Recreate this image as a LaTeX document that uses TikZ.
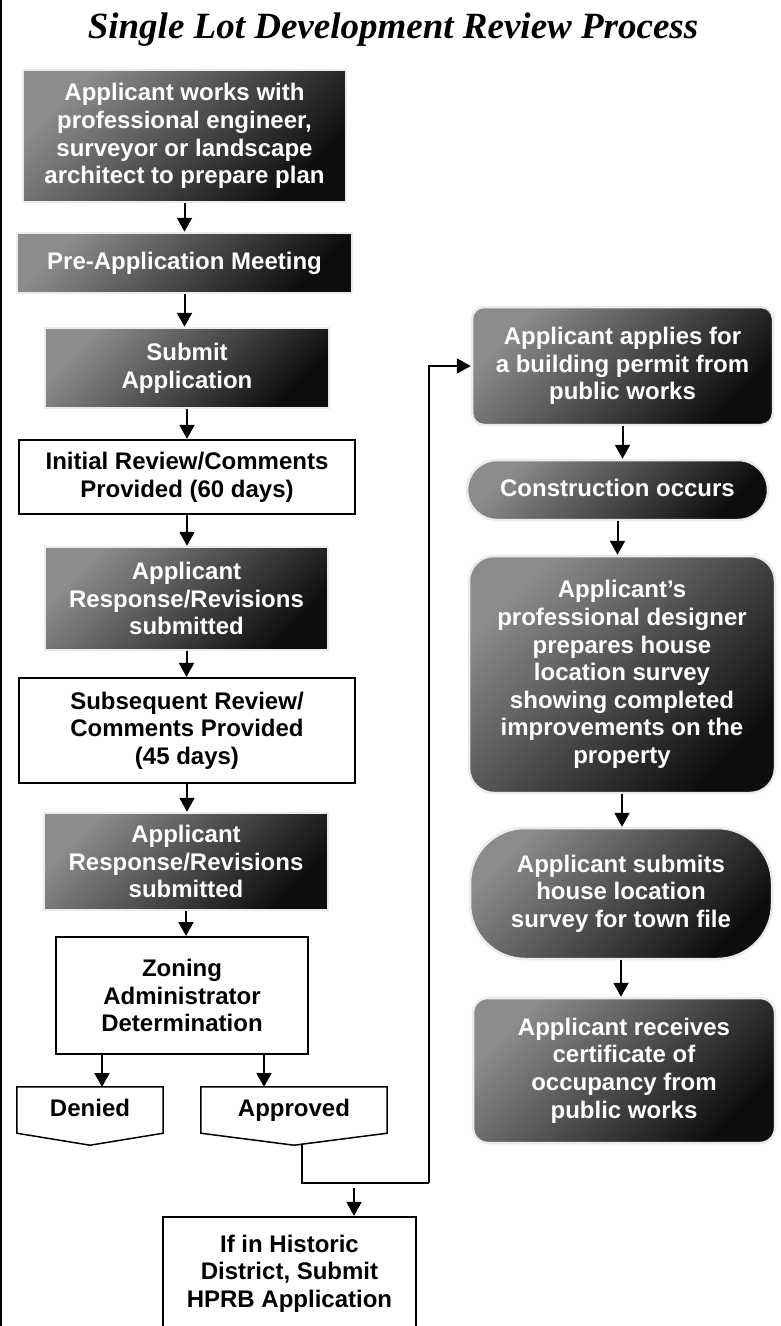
\documentclass[tikz,border=0pt]{standalone}
\usepackage{fontspec}
\setmainfont{Liberation Sans}
\newfontfamily\titlefont{Liberation Serif}
\usetikzlibrary{arrows.meta}
\tikzset{
  txt/.style={font=\bfseries\fontsize{24}{27.6}\selectfont, align=center, inner sep=0pt},
  graybox/.style={txt, text=white, rectangle, draw=black!8, line width=2.5pt,
    top color=black!45, bottom color=black!95, shading angle=45},
  whitebox/.style={txt, rectangle, draw=black, line width=2.2pt, fill=white},
  arr/.style={line width=2pt, -{Triangle[width=15pt,length=14pt]}},
  conn/.style={line width=1.8pt},
  outline/.style={draw=black, line width=1.5pt, line join=miter},
  oneline/.style={text height=17pt, text depth=5pt}
}
\begin{document}
\begin{tikzpicture}[x=1pt,y=-1pt]
\useasboundingbox (0,0) rectangle (781,1326);
\draw[line width=1.6pt] (0.8,0) -- (0.8,1326);

\node (title) at (393,30) {\titlefont\bfseries\itshape\fontsize{37}{42}\selectfont Single Lot Development Review Process};

% left column
\node[graybox, minimum width=323pt, minimum height=132pt] (b1) at (184.5,136) {Applicant works with\\professional engineer,\\surveyor or landscape\\architect to prepare plan};
\node[graybox, oneline, minimum width=335pt, minimum height=60pt] (pre) at (184.5,263) {Pre-Application Meeting};
\node[graybox, minimum width=284pt, minimum height=80pt] (sub) at (187,368) {Submit\\Application};
\node[whitebox, minimum width=336pt, minimum height=74pt] (ini) at (187,477) {Initial Review/Comments\\Provided (60 days)};
\node[graybox, minimum width=283pt, minimum height=103pt] (ar1) at (186.5,598.5) {Applicant\\Response/Revisions\\submitted};
\node[whitebox, minimum width=336pt, minimum height=105pt] (sq) at (187,730.5) {Subsequent Review/\\Comments Provided\\(45 days)};
\node[graybox, minimum width=284pt, minimum height=97pt] (ar2) at (186,861.5) {Applicant\\Response/Revisions\\submitted};
\node[whitebox, line width=2pt, minimum width=252pt, minimum height=117pt] (zon) at (182,995.5) {Zoning\\Administrator\\Determination};

\node[txt, oneline, minimum width=146pt, minimum height=46pt] (den) at (90,1110) {Denied};
\draw[outline] (den.north west) -- (den.north east) -- (den.south east) -- ([yshift=-12pt]den.south) -- (den.south west) -- cycle;
\node[txt, oneline, minimum width=186pt, minimum height=46pt] (app) at (294,1110) {Approved};
\draw[outline] (app.north west) -- (app.north east) -- (app.south east) -- ([yshift=-12pt]app.south) -- (app.south west) -- cycle;

\node[whitebox, minimum width=253pt, minimum height=113pt] (hp) at (289.5,1273.5) {If in Historic\\District, Submit\\HPRB Application};

% right column
\node[graybox, rounded corners=12pt, minimum width=301pt, minimum height=118pt] (apl) at (622.5,366) {Applicant applies for\\a building permit from\\public works};
\node[graybox, oneline, rounded corners=30pt, minimum width=301pt, minimum height=60pt] (con) at (617.5,490) {Construction occurs};
\node[graybox, rounded corners=25pt, minimum width=306pt, minimum height=237pt] (des) at (622,674.5) {Applicant’s\\professional designer\\prepares house\\location survey\\showing completed\\improvements on the\\property};
\node[graybox, rounded corners=55pt, minimum width=302pt, minimum height=131pt] (sbm) at (621,893.5) {Applicant submits\\house location\\survey for town file};
\node[graybox, rounded corners=15pt, minimum width=302pt, minimum height=145pt] (rcv) at (624,1070.5) {Applicant receives\\certificate of\\occupancy from\\public works};

% connectors
\draw[arr] (b1.south) -- (b1.south |- pre.north);
\draw[arr] (pre.south) -- (pre.south |- sub.north);
\draw[arr] (sub.south) -- (sub.south |- ini.north);
\draw[arr] (ini.south) -- (ini.south |- ar1.north);
\draw[arr] (ar1.south) -- (ar1.south |- sq.north);
\draw[arr] (sq.south) -- (sq.south |- ar2.north);
\draw[arr] (ar2.south) -- (ar2.south |- zon.north);
\coordinate (dtop) at (102,1087);
\coordinate (atop) at (264,1087);
\draw[arr] (dtop |- zon.south) -- (dtop);
\draw[arr] (atop |- zon.south) -- (atop);

\coordinate (apx) at (302,1144);
\coordinate (corner) at (429,1183);
\draw[conn] (apx) -- (apx |- corner) -- (corner);
\draw[arr] (corner) -- (corner |- apl.west) -- (apl.west);
\coordinate (hin) at (354,1188);
\draw[arr] (hin) -- (hin |- hp.north);

\draw[arr] (apl.south) -- (apl.south |- con.north);
\draw[arr] (con.south) -- (con.south |- des.north);
\draw[arr] (des.south) -- (des.south |- sbm.north);
\draw[arr] (sbm.south) -- (sbm.south |- rcv.north);
\end{tikzpicture}
\end{document}
